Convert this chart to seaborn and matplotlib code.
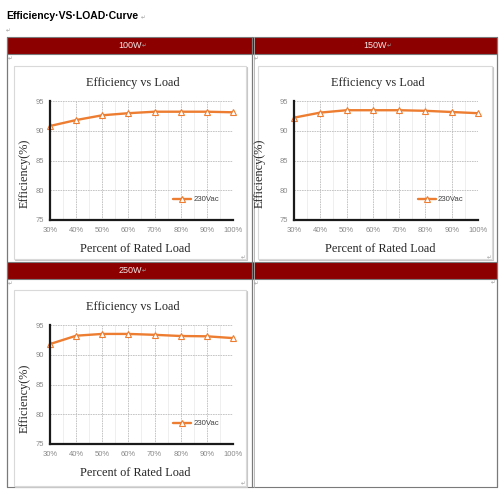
import numpy as np
import pandas as pd
import matplotlib
matplotlib.use('Agg')
import matplotlib.pyplot as plt
from matplotlib.patches import Rectangle
from matplotlib.lines import Line2D
import seaborn as sns

# data
load_pct = [30, 40, 50, 60, 70, 80, 90, 100]
load_labels = ['30%', '40%', '50%', '60%', '70%', '80%', '90%', '100%']
eff_100w = [90.8, 91.8, 92.6, 92.95, 93.2, 93.2, 93.2, 93.1]
eff_150w = [92.2, 93.05, 93.45, 93.45, 93.45, 93.35, 93.15, 92.95]
eff_250w = [91.8, 93.2, 93.5, 93.5, 93.35, 93.15, 93.1, 92.8]
y_ticks = [75, 80, 85, 90, 95]
series_name = '230Vac'
headers = ['100W', '150W', '250W']

sns.set_theme(style='white')
plt.rcParams['font.family'] = ['Liberation Sans', 'DejaVu Sans']

W, H = 500, 500
fig = plt.figure(figsize=(5, 5), dpi=100)
fig.patch.set_facecolor('white')


def fx(x):
    return x / W


def fy(y):
    return 1 - y / H


def rect(x0, y0, x1, y1, **kw):
    fig.patches.append(Rectangle((fx(x0), fy(y1)), fx(x1) - fx(x0), fy(y0) - fy(y1),
                                 transform=fig.transFigure, figure=fig, **kw))


def hline(y, x0, x1, **kw):
    fig.lines.append(Line2D([fx(x0), fx(x1)], [fy(y), fy(y)], transform=fig.transFigure, **kw))


def vline(x, y0, y1, **kw):
    fig.lines.append(Line2D([fx(x), fx(x)], [fy(y0), fy(y1)], transform=fig.transFigure, **kw))


def mark(x, y):
    fig.text(fx(x), fy(y), '\u21b5', fontsize=4, color='#a0a0a0', ha='left', va='center',
             family=['DejaVu Sans'])


# document title
fig.text(fx(6), fy(16), 'Efficiency\u00b7VS\u00b7LOAD\u00b7Curve', fontsize=7.5,
         fontweight='bold', color='black', ha='left', va='center')
mark(141, 18)
mark(6, 31)

# table
red = '#8c0000'
rect(7, 37, 497, 54, facecolor=red, edgecolor='none', zorder=1)
rect(7, 262, 497, 279, facecolor=red, edgecolor='none', zorder=1)
tc = '#7a7a7a'
for y in [37, 54, 262, 279, 487]:
    hline(y, 7, 497, color=tc, lw=0.8)
for x in [7, 252, 497]:
    vline(x, 37, 487, color=tc, lw=0.9)
vline(253.5, 37, 487, color='#b0b0b0', lw=0.6)

hdr_pos = [(130, 45.5), (375, 45.5), (130, 270.5)]
for (hx, hy), txt in zip(hdr_pos, headers):
    fig.text(fx(hx), fy(hy), txt, fontsize=6.5, color='#f6e8e8', ha='center', va='center')
    mark(hx + 12, hy + 0.5)

for (mx, my) in [(8, 59), (254, 59), (8, 284), (254, 284), (491, 283),
                 (241, 258), (487, 258), (241, 484)]:
    mark(mx, my)

# chart frames
frames = [(14, 66, 246, 259), (258, 66, 492, 259), (14, 290, 246, 486)]
for (x0, y0, x1, y1) in frames:
    rect(x0 + 1, y0 + 1, x1 + 1, y1 + 1, facecolor='none', edgecolor='#c8c8c8', lw=0.8, zorder=2)
    rect(x0, y0, x1, y1, facecolor='white', edgecolor='#d9d9d9', lw=0.8, zorder=2)

charts = [
    dict(vals=eff_100w, box=(50, 101, 233, 220), title=(133, 83), xlab=(135, 249), ylab=(25, 173)),
    dict(vals=eff_150w, box=(294, 101, 478, 220), title=(378, 83), xlab=(380, 249), ylab=(260, 173)),
    dict(vals=eff_250w, box=(50, 325, 233, 444), title=(133, 307), xlab=(135, 473), ylab=(25, 398)),
]

orange = '#ed7d31'
serif = ['Liberation Serif', 'DejaVu Serif']

for c in charts:
    x0, y0, x1, y1 = c['box']
    ax = fig.add_axes([fx(x0), fy(y1), fx(x1) - fx(x0), fy(y0) - fy(y1)], zorder=5)
    ax.set_facecolor('none')
    df = pd.DataFrame({'load': load_pct, 'eff': c['vals'], 'series': series_name})
    sns.lineplot(data=df, x='load', y='eff', hue='series', palette=[orange], ax=ax,
                 marker='^', markersize=4, markerfacecolor='white', markeredgecolor=orange,
                 markeredgewidth=0.8, linewidth=1.7, zorder=6, clip_on=False)
    ax.set_xlim(30, 100)
    ax.set_ylim(75, 95)
    ax.set_xticks(load_pct)
    ax.set_xticklabels(load_labels)
    ax.set_yticks(y_ticks)
    ax.set_xticks([35, 45, 55, 65, 75, 85, 95], minor=True)
    ax.grid(which='major', color='#bdbdbd', linestyle=(0, (2, 1)), linewidth=0.6)
    ax.grid(which='minor', axis='x', color='#ececec', linestyle='-', linewidth=0.6)
    ax.set_axisbelow(True)
    for s in ['top', 'right']:
        ax.spines[s].set_visible(False)
    for s in ['left', 'bottom']:
        ax.spines[s].set_color('#1a1a1a')
        ax.spines[s].set_linewidth(1.6)
        ax.spines[s].set_zorder(7)
    ax.tick_params(axis='both', which='both', length=0, labelsize=5.5, labelcolor='#8a8a8a')
    ax.tick_params(axis='y', pad=4.3)
    ax.tick_params(axis='x', pad=4.8)
    ax.set_xlabel('')
    ax.set_ylabel('')
    leg = ax.legend(loc='center left', bbox_to_anchor=(0.655, 0.17), frameon=False,
                    fontsize=5.6, handlelength=2.3, handletextpad=0.3, borderaxespad=0)
    for t in leg.get_texts():
        t.set_color('#404040')
    fig.text(fx(c['title'][0]), fy(c['title'][1]), 'Efficiency vs Load', fontsize=8.8,
             family=serif, color='#262626', ha='center', va='center')
    fig.text(fx(c['xlab'][0]), fy(c['xlab'][1]), 'Percent of Rated Load', fontsize=8.8,
             family=serif, color='#262626', ha='center', va='center')
    fig.text(fx(c['ylab'][0]), fy(c['ylab'][1]), 'Efficiency(%)', fontsize=8.8,
             family=serif, color='#262626', ha='center', va='center', rotation=90)

fig.savefig('out.png', dpi=100, facecolor='white')
